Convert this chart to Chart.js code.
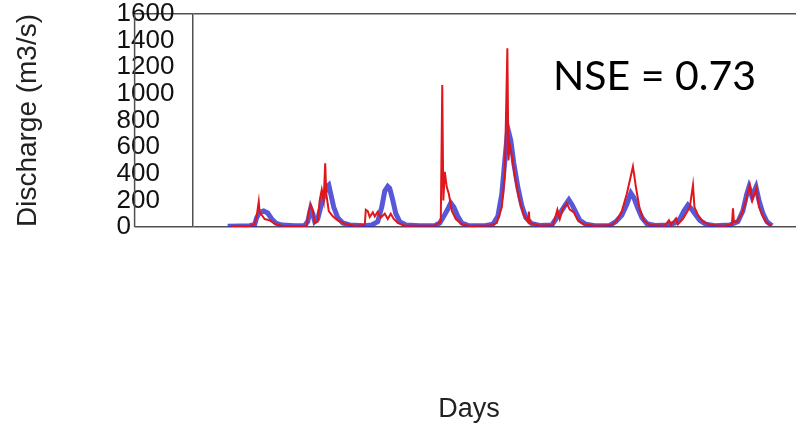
<!DOCTYPE html>
<html lang="en">
<head>
    <meta charset="UTF-8">
    <title>Discharge</title>
    <script src="https://cdn.jsdelivr.net/npm/chart.js"></script>
    <style>
        body {
            margin: 0;
            background: #fff;
        }
        .wrap {
            width: 796px;
            height: 425px;
            position: relative;
        }
    </style>
</head>
<body>
    <div class="wrap"><canvas id="chart"></canvas></div>

    <script>
        // observed flow (blue), day number and m3/s
        const obsDays = [0, 80, 147, 181, 194, 214, 241, 268, 295, 322, 362, 449, 516, 536, 556, 570, 583, 603, 623, 643,
            663, 677, 690, 710, 737, 771, 817, 918, 965, 1005, 1032, 1052, 1072, 1085, 1106, 1126, 1152, 1193, 1286, 1387,
            1420, 1447, 1467, 1494, 1514, 1541, 1568, 1608, 1722, 1776, 1809, 1836, 1856, 1876, 1896, 1916, 1943, 1970, 1997, 2037,
            2090, 2171, 2198, 2224, 2258, 2285, 2305, 2332, 2358, 2399, 2459, 2559, 2600, 2640, 2673, 2700, 2720, 2747, 2774, 2807,
            2861, 2948, 2995, 3028, 3055, 3082, 3102, 3129, 3162, 3203, 3263, 3363, 3417, 3450, 3477, 3491, 3511, 3538, 3558, 3585,
            3611, 3645];
        const obsFlow = [5, 8, 10, 20, 70, 110, 120, 105, 60, 30, 15, 10, 12, 40, 140, 100, 40, 60, 150, 230,
            300, 315, 250, 150, 70, 30, 15, 10, 15, 40, 150, 270, 305, 290, 200, 100, 40, 15, 10, 10,
            30, 80, 120, 180, 150, 80, 30, 12, 10, 20, 80, 250, 500, 740, 650, 480, 300, 160, 70, 25,
            12, 15, 60, 100, 160, 205, 170, 110, 50, 20, 10, 12, 40, 90, 170, 255, 220, 140, 70, 25,
            12, 15, 30, 60, 120, 165, 140, 100, 50, 20, 10, 15, 40, 120, 250, 300, 230, 300, 200, 100,
            40, 10];

        // simulated flow (red)
        const simDays = [27, 147, 181, 194, 208, 214, 228, 248, 281, 315, 362, 482, 529, 543, 556, 570, 583, 603, 616, 630,
            643, 653, 660, 677, 704, 737, 784, 851, 918, 925, 938, 951, 972, 985, 1005, 1025, 1052, 1072, 1092, 1112,
            1139, 1186, 1387, 1427, 1437, 1444, 1454, 1467, 1481, 1501, 1528, 1568, 1621, 1755, 1802, 1836, 1856, 1873, 1880, 1889,
            1903, 1923, 1950, 1983, 2010, 2017, 2023, 2090, 2178, 2198, 2208, 2224, 2245, 2271, 2291, 2318, 2345, 2385, 2459, 2573,
            2606, 2640, 2673, 2693, 2714, 2734, 2760, 2787, 2827, 2928, 2955, 2968, 3002, 3015, 3049, 3075, 3095, 3116, 3126, 3149,
            3183, 3229, 3330, 3377, 3384, 3390, 3410, 3444, 3471, 3497, 3514, 3541, 3558, 3585, 3611, 3645];
        const simFlow = [5, 8, 20, 80, 190, 110, 90, 60, 50, 25, 10, 8, 10, 120, 165, 120, 30, 40, 200, 280,
            200, 478, 250, 120, 80, 50, 25, 10, 15, 130, 120, 75, 110, 80, 115, 70, 100, 60, 100, 60,
            30, 10, 12, 40, 1066, 200, 415, 300, 250, 120, 60, 20, 8, 12, 30, 150, 400, 1342, 500, 620,
            540, 380, 220, 90, 40, 115, 30, 10, 15, 90, 130, 60, 140, 178, 130, 110, 50, 20, 10, 15,
            50, 120, 250, 350, 455, 300, 130, 50, 15, 10, 50, 15, 65, 20, 60, 110, 150, 315, 150, 90,
            40, 15, 10, 20, 140, 40, 40, 100, 200, 315, 200, 290, 150, 80, 30, 10];

        const yTicks = [0, 200, 400, 600, 800, 1000, 1200, 1400, 1600];
        const nseText = 'NSE = 0.73';

        const toPoints = (xs, ys) => xs.map((d, i) => ({ x: d, y: ys[i] }));

        // frame line left of the tick labels, plus the NSE and Days texts
        const extras = {
            id: 'extras',
            afterDraw(chart) {
                const { ctx, chartArea } = chart;
                ctx.save();
                ctx.strokeStyle = '#505050';
                ctx.lineWidth = 1.5;
                ctx.beginPath();
                ctx.moveTo(chartArea.left - 58, chartArea.top);
                ctx.lineTo(chartArea.left - 58, chartArea.bottom);
                ctx.stroke();

                ctx.fillStyle = '#000';
                ctx.font = '41px Lato, "Open Sans", sans-serif';
                ctx.textAlign = 'left';
                ctx.textBaseline = 'alphabetic';
                ctx.fillText(nseText, 553, 90);

                ctx.fillStyle = '#222';
                ctx.font = '27px "Liberation Sans", Arial, sans-serif';
                ctx.textAlign = 'center';
                ctx.fillText('Days', 469, 417);
                ctx.restore();
            }
        };

        new Chart(document.getElementById('chart').getContext('2d'), {
            type: 'line',
            data: {
                datasets: [{
                    label: 'Observed',
                    data: toPoints(obsDays, obsFlow),
                    borderColor: 'rgba(45, 45, 205, 0.8)',
                    borderWidth: 5,
                    pointRadius: 0,
                    order: 1
                }, {
                    label: 'Simulated',
                    data: toPoints(simDays, simFlow),
                    borderColor: '#e0161a',
                    borderWidth: 2,
                    pointRadius: 0,
                    order: 0
                }]
            },
            options: {
                responsive: true,
                maintainAspectRatio: false,
                animation: false,
                layout: { padding: { top: 14, left: 0, right: 0, bottom: 198 } },
                plugins: {
                    legend: { display: false },
                    tooltip: { enabled: false },
                    title: {
                        display: true,
                        text: 'Discharge (m3/s)',
                        position: 'left',
                        fullSize: false,
                        color: '#222',
                        font: { family: '"Liberation Sans", Arial, sans-serif', size: 28, weight: 'normal', lineHeight: 1.2 },
                        padding: { top: 11, bottom: 72 }
                    }
                },
                scales: {
                    x: {
                        type: 'linear',
                        display: false,
                        min: -235,
                        max: 3806
                    },
                    y: {
                        min: 0,
                        max: 1600,
                        afterFit(scale) { scale.width = 76; },
                        afterBuildTicks(scale) { scale.ticks = yTicks.map(v => ({ value: v })); },
                        border: { display: true, color: '#505050', width: 1.5 },
                        grid: {
                            drawOnChartArea: true,
                            drawTicks: true,
                            tickLength: 58,
                            lineWidth: 1.5,
                            color: ctx => (ctx.tick && (ctx.tick.value === 0 || ctx.tick.value === 1600)) ? '#505050' : 'transparent'
                        },
                        ticks: {
                            autoSkip: false,
                            crossAlign: 'far',
                            padding: 0,
                            color: '#111',
                            callback: v => String(v),
                            font: { family: '"Liberation Sans", Arial, sans-serif', size: 26, lineHeight: 1 }
                        }
                    }
                }
            },
            plugins: [extras]
        });
    </script>
</body>
</html>
